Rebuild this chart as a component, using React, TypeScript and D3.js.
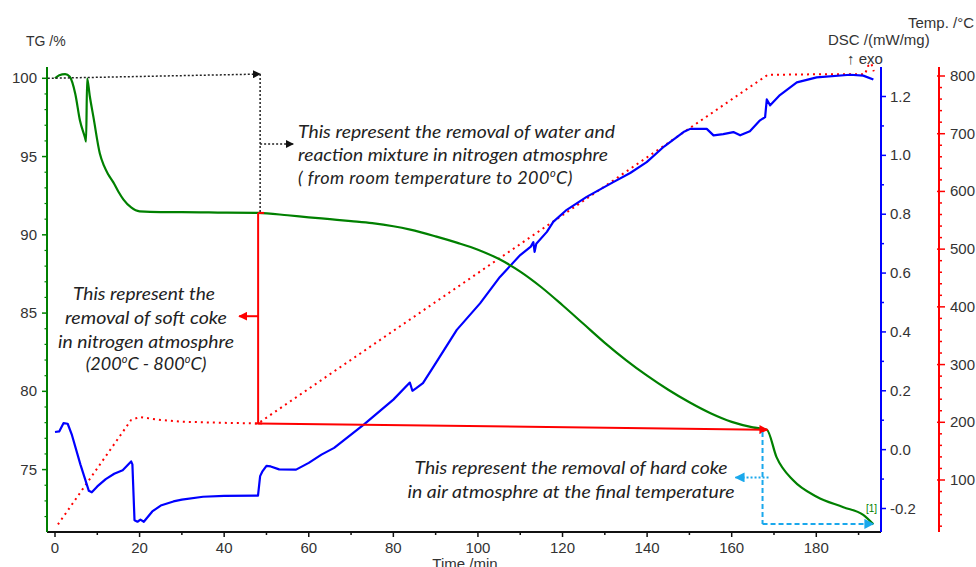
import React from 'react';
import * as d3 from 'd3';

// ---------- data ----------
const tgTime = [0, 1, 2.4, 3.5, 4.8, 5.9, 7.1, 7.35, 7.6, 8.2, 9.1, 10.6, 11.6, 12.6, 13.8, 15, 16.2, 18, 20, 25, 30, 40, 48, 55, 60, 65, 70, 75, 80, 84, 90, 95, 100, 105, 110, 115, 120, 125, 130, 135, 140, 145, 150, 155, 160, 165, 168.3, 170.6, 174.6, 180.1, 186.4, 191.1, 193.5];
const tgValue = [100.0, 100.2, 100.27, 100.1, 99.0, 97.3, 96.2, 95.95, 100.0, 98.9, 97.5, 95.2, 94.4, 93.85, 93.35, 92.75, 92.25, 91.75, 91.5, 91.45, 91.45, 91.42, 91.4, 91.25, 91.12, 91.0, 90.88, 90.75, 90.55, 90.33, 89.9, 89.5, 89.05, 88.45, 87.65, 86.65, 85.5, 84.3, 83.1, 82.0, 81.0, 80.1, 79.3, 78.6, 78.05, 77.7, 77.55, 75.8, 74.3, 73.27, 72.6, 72.1, 71.5];

const dscTime = [0, 1, 2, 3, 4, 6, 8, 8.7, 10, 12, 14, 16, 18, 18.3, 18.8, 19.5, 20.2, 21, 23, 25, 28, 30, 35, 40, 48, 48.5, 49, 50, 51, 53, 57, 60, 63, 66, 73, 80, 83.9, 84.5, 85.5, 87, 89.5, 95, 100.5, 105.2, 110, 112.5, 113.1, 113.4, 113.8, 116.3, 117.8, 121, 125.7, 132, 136, 139.9, 144, 148.6, 150.2, 154.1, 155.7, 158, 160.4, 162, 164.3, 166.7, 167.9, 168.3, 169.1, 171.4, 175.4, 180.1, 188, 191.1, 193.5];
const dscValue = [0.06, 0.062, 0.09, 0.088, 0.05, -0.05, -0.14, -0.145, -0.125, -0.1, -0.082, -0.07, -0.04, -0.05, -0.24, -0.245, -0.238, -0.245, -0.21, -0.19, -0.176, -0.17, -0.16, -0.157, -0.156, -0.09, -0.075, -0.055, -0.057, -0.067, -0.068, -0.045, -0.017, 0.006, 0.085, 0.17, 0.228, 0.2, 0.21, 0.226, 0.282, 0.407, 0.497, 0.587, 0.661, 0.69, 0.705, 0.672, 0.7, 0.74, 0.774, 0.815, 0.859, 0.909, 0.94, 0.977, 1.03, 1.079, 1.09, 1.09, 1.068, 1.072, 1.079, 1.068, 1.082, 1.119, 1.13, 1.19, 1.17, 1.205, 1.248, 1.265, 1.274, 1.271, 1.258];

const tempTime = [0.7, 18, 20, 25, 30, 40, 48, 168.5, 180, 191.5, 192.3, 193, 193.6];
const tempValue = [23, 204, 209, 204, 201, 199, 198, 802, 803, 803, 818, 822, 808];

const timeTicks = [0, 20, 40, 60, 80, 100, 120, 140, 160, 180];
const timeMinor = [10, 30, 50, 70, 90, 110, 130, 150, 170, 190];
const tgTicks = [75, 80, 85, 90, 95, 100];
const dscTicks = [-0.2, 0.0, 0.2, 0.4, 0.6, 0.8, 1.0, 1.2];
const tempTicks = [100, 200, 300, 400, 500, 600, 700, 800];

// ---------- scales ----------
const x = d3.scaleLinear().domain([0, 160]).range([55, 731.7]);
const yTG = d3.scaleLinear().domain([75, 100]).range([469.6, 78.3]);
const yDSC = d3.scaleLinear().domain([-0.2, 1.2]).range([508.5, 96.5]);
const yT = d3.scaleLinear().domain([100, 800]).range([480, 76]);

const AX_TOP = 67;
const AX_BOT = 532;
const X_LEFT = 47;
const X_BLUE = 881;
const X_RED = 939;

const GREEN = '#008000';
const BLUE = '#0000ff';
const RED = '#ff0000';
const CYAN = '#1aa8ec';
const TXT = '#333333';

const tgLine = d3.line<number>().x((_, i) => x(tgTime[i])).y((d) => yTG(d)).curve(d3.curveMonotoneX);
const dscLine = d3.line<number>().x((_, i) => x(dscTime[i])).y((d) => yDSC(d));
const tempLine = d3.line<number>().x((_, i) => x(tempTime[i])).y((d) => yT(d));

const annoFont = "Lato, 'Open Sans', sans-serif";
const axisFont = "'Liberation Sans', Arial, sans-serif";

export default function App() {
  const tgMinor = d3.range(72, 101, 1).filter((v) => v % 5 !== 0);
  const dscMinor = [-0.1, 0.1, 0.3, 0.5, 0.7, 0.9, 1.1];
  const tempMinor = d3.range(20, 820, 20).filter((v) => v % 100 !== 0 && yT(v) >= AX_TOP && yT(v) <= AX_BOT);

  const tA = 48.5;
  const xA = x(tA);
  const tB = 168;
  const xB = x(tB);

  return (
    <svg width={976} height={567} style={{ position: 'fixed', left: 0, top: 0, background: '#fff' }} fontFamily={axisFont}>
      <defs>
        <marker id="ahBlack" viewBox="0 0 10 10" refX="9" refY="5" markerWidth="8" markerHeight="8" markerUnits="userSpaceOnUse" orient="auto">
          <path d="M0,0 L10,5 L0,10 z" fill="#111" />
        </marker>
        <marker id="ahRed" viewBox="0 0 10 10" refX="9" refY="5" markerWidth="9" markerHeight="9" markerUnits="userSpaceOnUse" orient="auto">
          <path d="M0,0 L10,5 L0,10 z" fill={RED} />
        </marker>
        <marker id="ahCyan" viewBox="0 0 10 10" refX="9" refY="5" markerWidth="10" markerHeight="10" markerUnits="userSpaceOnUse" orient="auto">
          <path d="M0,0 L10,5 L0,10 z" fill={CYAN} />
        </marker>
      </defs>

      {/* x axis */}
      <line x1={X_LEFT} x2={X_BLUE} y1={AX_BOT} y2={AX_BOT} stroke="#111" strokeWidth={2} />
      {timeTicks.map((t) => (
        <g key={'xt' + t}>
          <line x1={x(t)} x2={x(t)} y1={AX_BOT} y2={AX_BOT + 5} stroke="#111" strokeWidth={1.5} />
          <text x={x(t)} y={553} textAnchor="middle" fontSize={15} fill={TXT}>{t}</text>
        </g>
      ))}
      {timeMinor.map((t) => (
        <line key={'xm' + t} x1={x(t)} x2={x(t)} y1={AX_BOT} y2={AX_BOT + 3} stroke="#111" strokeWidth={1.5} />
      ))}
      <text x={465} y={569} textAnchor="middle" fontSize={15} fill={TXT}>Time /min</text>

      {/* TG axis */}
      <line x1={X_LEFT} x2={X_LEFT} y1={AX_TOP} y2={AX_BOT} stroke={GREEN} strokeWidth={2} />
      {tgTicks.map((v) => (
        <g key={'tg' + v}>
          <line x1={X_LEFT - 5} x2={X_LEFT} y1={yTG(v)} y2={yTG(v)} stroke={GREEN} strokeWidth={1.5} />
          <text x={37} y={yTG(v) + 5} textAnchor="end" fontSize={15} fill={TXT}>{v}</text>
        </g>
      ))}
      {tgMinor.map((v) => (
        <line key={'tgm' + v} x1={X_LEFT - 2.5} x2={X_LEFT} y1={yTG(v)} y2={yTG(v)} stroke={GREEN} strokeWidth={1.2} />
      ))}
      <text x={26} y={46} fontSize={14} fill={TXT}>TG /%</text>

      {/* DSC axis */}
      <line x1={X_BLUE} x2={X_BLUE} y1={AX_TOP} y2={AX_BOT} stroke={BLUE} strokeWidth={2} />
      {dscTicks.map((v) => (
        <g key={'dsc' + v}>
          <line x1={X_BLUE} x2={X_BLUE + 5} y1={yDSC(v)} y2={yDSC(v)} stroke={BLUE} strokeWidth={1.5} />
          <text x={890} y={yDSC(v) + 5} fontSize={15} fill={TXT}>{v.toFixed(1)}</text>
        </g>
      ))}
      {dscMinor.map((v) => (
        <line key={'dscm' + v} x1={X_BLUE} x2={X_BLUE + 3} y1={yDSC(v)} y2={yDSC(v)} stroke={BLUE} strokeWidth={1.5} />
      ))}
      <text x={828} y={45} fontSize={15} fill={TXT}>DSC /(mW/mg)</text>
      <text x={847} y={64} fontSize={15} fill={TXT}>↑ exo</text>

      {/* Temp axis */}
      <line x1={X_RED} x2={X_RED} y1={AX_TOP} y2={AX_BOT} stroke={RED} strokeWidth={2} />
      {tempTicks.map((v) => (
        <g key={'tp' + v}>
          <line x1={X_RED - 2} x2={X_RED + 6} y1={yT(v)} y2={yT(v)} stroke={RED} strokeWidth={1.5} />
          <text x={950} y={yT(v) + 5} fontSize={15} fill={TXT}>{v}</text>
        </g>
      ))}
      {tempMinor.map((v) => (
        <line key={'tpm' + v} x1={X_RED - 1} x2={X_RED + 3} y1={yT(v)} y2={yT(v)} stroke={RED} strokeWidth={1.5} />
      ))}
      <text x={974} y={28} textAnchor="end" fontSize={15} fill={TXT}>Temp. /°C</text>

      {/* curves */}
      <path d={tempLine(tempValue) || ''} fill="none" stroke={RED} strokeWidth={2} strokeDasharray="2,4" />
      <path d={dscLine(dscValue) || ''} fill="none" stroke={BLUE} strokeWidth={2.2} strokeLinejoin="round" />
      <path d={tgLine(tgValue) || ''} fill="none" stroke={GREEN} strokeWidth={2.2} />
      <text x={866} y={512} fontSize={10} fill={GREEN}>[1]</text>

      {/* black dotted annotation */}
      <line x1={x(-1.7)} y1={yTG(100)} x2={xA} y2={yTG(100.27)} stroke="#222" strokeWidth={1.5} strokeDasharray="2,2" markerEnd="url(#ahBlack)" />
      <line x1={xA} y1={yTG(100.27)} x2={xA} y2={yTG(91.4)} stroke="#222" strokeWidth={1.5} strokeDasharray="2,2" />
      <line x1={xA} y1={yTG(95.8)} x2={xA + 33} y2={yTG(95.8)} stroke="#222" strokeWidth={1.5} strokeDasharray="2,2" markerEnd="url(#ahBlack)" />

      {/* red soft coke annotation */}
      <line x1={xA - 2} y1={yTG(91.4)} x2={xA - 2} y2={yT(198)} stroke={RED} strokeWidth={2} />
      <line x1={xA - 2} y1={yTG(91.4)} x2={xA + 4} y2={yTG(91.4)} stroke={RED} strokeWidth={2} />
      <line x1={xA - 2} y1={yTG(84.8)} x2={xA - 21} y2={yTG(84.8)} stroke={RED} strokeWidth={2} markerEnd="url(#ahRed)" />
      <line x1={xA - 5} y1={yT(198)} x2={xA + 2} y2={yT(198)} stroke={RED} strokeWidth={2} />
      <line x1={xA - 2} y1={yT(198)} x2={xB + 2} y2={yTG(77.55)} stroke={RED} strokeWidth={2} markerEnd="url(#ahRed)" />

      {/* cyan hard coke annotation */}
      <line x1={xB - 3} y1={yTG(77.4)} x2={xB - 3} y2={yTG(71.5) - 0.5} stroke={CYAN} strokeWidth={2} strokeDasharray="5,3" />
      <line x1={xB - 3} y1={yTG(71.5) - 0.5} x2={x(193.5)} y2={yTG(71.5) - 0.5} stroke={CYAN} strokeWidth={2} strokeDasharray="5,3" markerEnd="url(#ahCyan)" />
      <line x1={xB + 3} y1={yTG(74.5)} x2={xB - 30} y2={yTG(74.5)} stroke={CYAN} strokeWidth={2} strokeDasharray="2,2" markerEnd="url(#ahCyan)" />

      {/* annotation texts */}
      <g fontFamily={annoFont} fontStyle="italic" fontSize={18} fill="#222">
        <text x={298} y={138} textLength={317} lengthAdjust="spacingAndGlyphs">This represent the removal of water and</text>
        <text x={298} y={161} textLength={310} lengthAdjust="spacingAndGlyphs">reaction mixture in nitrogen atmosphre</text>
        <text x={298} y={184} letterSpacing={0.45}>
          <tspan>( from room temperature to 200</tspan><tspan dy={-7} fontSize={11}>o</tspan><tspan dy={7}>C)</tspan>
        </text>

        <text x={144} y={300} textAnchor="middle" textLength={142} lengthAdjust="spacingAndGlyphs">This represent the</text>
        <text x={146} y={324} textAnchor="middle" textLength={162} lengthAdjust="spacingAndGlyphs">removal of soft coke</text>
        <text x={146} y={348} textAnchor="middle" textLength={176} lengthAdjust="spacingAndGlyphs">in nitrogen atmosphre</text>
        <text x={146} y={370} textAnchor="middle">
          <tspan>(200</tspan><tspan dy={-7} fontSize={11}>o</tspan><tspan dy={7}>C - 800</tspan><tspan dy={-7} fontSize={11}>o</tspan><tspan dy={7}>C)</tspan>
        </text>

        <text x={571} y={474} textAnchor="middle" textLength={313} lengthAdjust="spacingAndGlyphs">This represent the removal of hard coke</text>
        <text x={571} y={498} textAnchor="middle" textLength={327} lengthAdjust="spacingAndGlyphs">in air atmosphre at the final temperature</text>
      </g>
    </svg>
  );
}
